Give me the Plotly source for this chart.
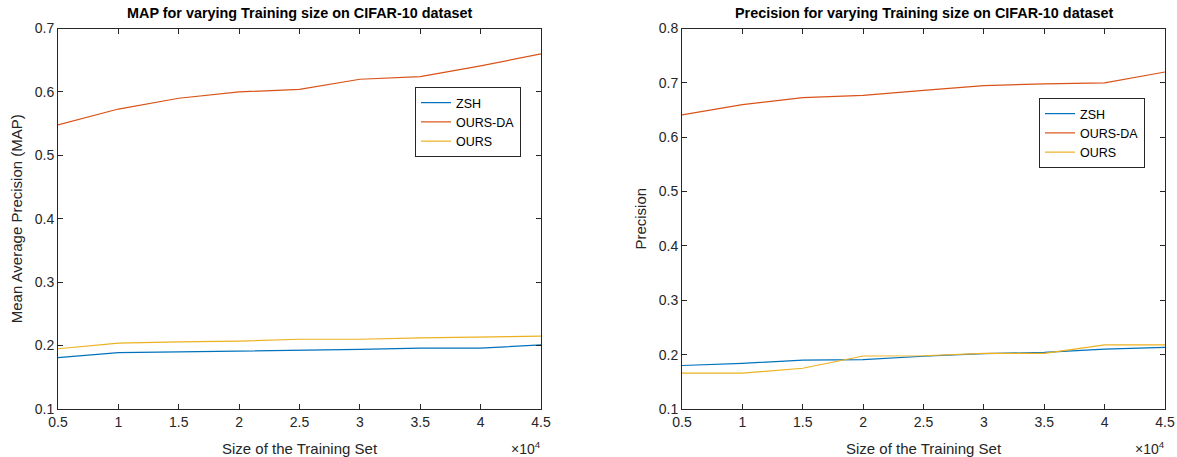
import plotly.graph_objects as go

# Training set sizes
sizes = [5000, 10000, 15000, 20000, 25000, 30000, 35000, 40000, 45000]
size_ticks = [5000, 10000, 15000, 20000, 25000, 30000, 35000, 40000, 45000]
size_tick_text = ["0.5", "1", "1.5", "2", "2.5", "3", "3.5", "4", "4.5"]

# MAP results
map_zsh = [0.181, 0.189, 0.190, 0.191, 0.193, 0.194, 0.196, 0.196, 0.201]
map_ours_da = [0.548, 0.573, 0.590, 0.600, 0.604, 0.620, 0.624, 0.641, 0.660]
map_ours = [0.195, 0.204, 0.206, 0.207, 0.210, 0.210, 0.212, 0.214, 0.215]

# Precision results
prec_zsh = [0.180, 0.184, 0.190, 0.191, 0.197, 0.202, 0.204, 0.210, 0.2135]
prec_ours_da = [0.641, 0.660, 0.673, 0.677, 0.686, 0.695, 0.698, 0.700, 0.720]
prec_ours = [0.166, 0.166, 0.175, 0.1975, 0.198, 0.2025, 0.2025, 0.218, 0.218]

y_ticks_left = [0.1, 0.2, 0.3, 0.4, 0.5, 0.6, 0.7]
y_ticks_right = [0.1, 0.2, 0.3, 0.4, 0.5, 0.6, 0.7, 0.8]

C_ZSH = "#0072BD"
C_DA = "#D95319"
C_OURS = "#EDB120"
INK = "#262626"
FONT = "Liberation Sans, Arial, Helvetica, sans-serif"

fig = go.Figure()

series = [
    ("ZSH", C_ZSH, map_zsh, prec_zsh),
    ("OURS-DA", C_DA, map_ours_da, prec_ours_da),
    ("OURS", C_OURS, map_ours, prec_ours),
]
for name, color, m, p in series:
    fig.add_trace(go.Scatter(x=sizes, y=m, name=name, mode="lines",
                             line=dict(color=color, width=1.2),
                             xaxis="x", yaxis="y", legend="legend"))
for name, color, m, p in series:
    fig.add_trace(go.Scatter(x=sizes, y=p, name=name, mode="lines",
                             line=dict(color=color, width=1.2),
                             xaxis="x2", yaxis="y2", legend="legend2"))

y_top = 1 - 28.5 / 457
y_bot = 1 - 409 / 457

axis_common = dict(
    showline=True, linecolor=INK, linewidth=1, mirror="ticks",
    ticks="inside", ticklen=5, tickcolor=INK, showgrid=False, zeroline=False,
    automargin=False,
    tickfont=dict(family=FONT, size=14, color=INK),
)
title_font = dict(family=FONT, size=15, color=INK)

fig.update_layout(
    width=1177, height=457,
    margin=dict(l=0, r=0, t=0, b=0),
    paper_bgcolor="white", plot_bgcolor="white",
    font=dict(family=FONT, color=INK),
    xaxis=dict(domain=[58 / 1177, 541 / 1177], range=[5000, 45000],
               tickvals=size_ticks, ticktext=size_tick_text,
               title=dict(text="Size of the Training Set", standoff=14, font=title_font),
               anchor="y", **axis_common),
    yaxis=dict(domain=[y_bot, y_top], range=[0.1, 0.7],
               tickvals=y_ticks_left, ticktext=[str(v) for v in y_ticks_left],
               title=dict(text="Mean Average Precision (MAP)", standoff=8, font=title_font),
               anchor="x", **axis_common),
    xaxis2=dict(domain=[682 / 1177, 1165 / 1177], range=[5000, 45000],
                tickvals=size_ticks, ticktext=size_tick_text,
                title=dict(text="Size of the Training Set", standoff=14, font=title_font),
                anchor="y2", **axis_common),
    yaxis2=dict(domain=[y_bot, y_top], range=[0.1, 0.8],
                tickvals=y_ticks_right, ticktext=[str(v) for v in y_ticks_right],
                title=dict(text="Precision", standoff=8, font=title_font),
                anchor="x2", **axis_common),
    legend=dict(x=415 / 1177, y=1 - 87 / 457, xanchor="left", yanchor="top",
                bgcolor="white", bordercolor=INK, borderwidth=1,
                font=dict(family=FONT, size=12.5, color="black"),
                itemwidth=30, tracegroupgap=0),
    legend2=dict(x=1039 / 1177, y=1 - 98 / 457, xanchor="left", yanchor="top",
                 bgcolor="white", bordercolor=INK, borderwidth=1,
                 font=dict(family=FONT, size=12.5, color="black"),
                 itemwidth=30, tracegroupgap=0),
    showlegend=True,
)

titles = [
    ("MAP for varying Training size on CIFAR-10 dataset", (58 + 541) / 2 / 1177),
    ("Precision for varying Training size on CIFAR-10 dataset", (682 + 1165) / 2 / 1177),
]
for text, xc in titles:
    fig.add_annotation(text="<b>" + text + "</b>", x=xc, y=1 - 13 / 457,
                       xref="paper", yref="paper", showarrow=False,
                       xanchor="center", yanchor="middle",
                       font=dict(family=FONT, size=14.4, color="black"))

for xr in [543 / 1177, 1167 / 1177]:
    fig.add_annotation(text="×10<sup>4</sup>", x=xr, y=-0.004, xref="paper", yref="paper",
                       showarrow=False, xanchor="right", yanchor="bottom",
                       font=dict(family=FONT, size=14, color=INK))

fig.write_html("out.html")
